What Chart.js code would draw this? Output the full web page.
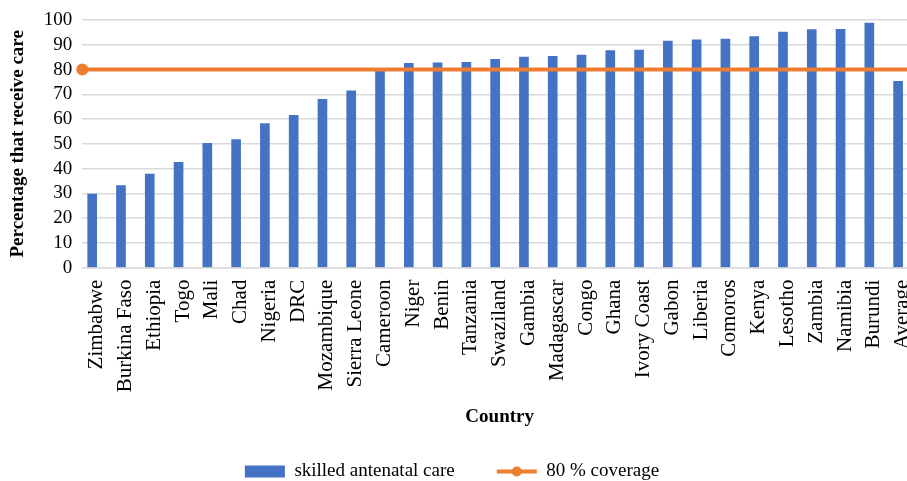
<!DOCTYPE html>
<html>
<head>
  <meta charset="utf-8">
  <title>Skilled antenatal care</title>
  <script src="https://cdn.jsdelivr.net/npm/chart.js@4.4.1/dist/chart.umd.min.js"></script>
  <style>
    body { margin: 0; background: #fff; overflow: hidden; }
    #wrap { width: 907px; height: 481px; overflow: hidden; }
  </style>
</head>
<body>
  <div id="wrap">
    <!-- wider than the window: the plot area runs off the right edge like the original -->
    <canvas id="careChart" width="923" height="481"></canvas>
  </div>

  <script>
    const countries = ['Zimbabwe', 'Burkina Faso', 'Ethiopia', 'Togo', 'Mali', 'Chad', 'Nigeria', 'DRC',
      'Mozambique', 'Sierra Leone', 'Cameroon', 'Niger', 'Benin', 'Tanzania', 'Swaziland', 'Gambia',
      'Madagascar', 'Congo', 'Ghana', 'Ivory Coast', 'Gabon', 'Liberia', 'Comoros', 'Kenya', 'Lesotho',
      'Zambia', 'Namibia', 'Burundi', 'Average'];

    const skilledCare = [29.7, 33.1, 37.8, 42.5, 50.2, 51.7, 58.2, 61.5, 68.0, 71.4, 79.6, 82.5, 82.7,
      82.9, 84.1, 85.0, 85.3, 85.8, 87.7, 87.9, 91.5, 92.0, 92.3, 93.3, 95.1, 96.1, 96.2, 98.8, 75.2];

    const coverageTarget = 80;
    const yTicks = [0, 10, 20, 30, 40, 50, 60, 70, 80, 90, 100];

    const serif = "'Liberation Serif', 'Times New Roman', serif";
    const blue = '#4472c4';
    const orange = '#ed7d31';
    const grid = '#d9d9d9';

    // dot on the legend line, like the Excel marker
    const legendDot = {
      id: 'legendDot',
      afterDraw(chart) {
        const legend = chart.legend;
        if (!legend || !legend.legendHitBoxes[1]) return;
        const box = legend.legendHitBoxes[1];
        const w = legend.options.labels.pointStyleWidth;
        const ctx = chart.ctx;
        ctx.save();
        ctx.fillStyle = orange;
        ctx.beginPath();
        ctx.arc(box.left + w / 2, box.top + box.height / 2, 5, 0, Math.PI * 2);
        ctx.fill();
        ctx.restore();
      }
    };

    const data = {
      labels: countries,
      datasets: [
        {
          type: 'bar',
          label: 'skilled antenatal care',
          data: skilledCare,
          backgroundColor: blue,
          borderWidth: 0,
          barThickness: 9,
          order: 2
        },
        {
          type: 'line',
          label: '80 % coverage',
          data: [{ x: 0, y: coverageTarget }, { x: 1, y: coverageTarget }],
          xAxisID: 'xLine',
          borderColor: orange,
          backgroundColor: orange,
          borderWidth: 4,
          pointRadius: [6, 0],
          pointBackgroundColor: orange,
          pointBorderWidth: 0,
          clip: false,
          order: 1
        }
      ]
    };

    const config = {
      type: 'bar',
      data: data,
      options: {
        responsive: false,
        animation: false,
        layout: { padding: { left: 0, right: 0, top: 20, bottom: -10 } },
        plugins: {
          legend: {
            position: 'bottom',
            labels: {
              font: { family: serif, size: 19 },
              color: '#000',
              usePointStyle: true,
              pointStyleWidth: 40,
              boxHeight: 12,
              padding: 4,
              generateLabels(chart) {
                return chart.data.datasets.map((ds, i) => ({
                  // spaces keep the wide gap between the entries and pull the legend back to centre
                  text: i === 0 ? ds.label + '\u2003\u2003' : ds.label + '\u2003',
                  datasetIndex: i,
                  fillStyle: ds.backgroundColor,
                  strokeStyle: i === 0 ? blue : orange,
                  lineWidth: i === 0 ? 0 : 4,
                  pointStyle: i === 0 ? 'rect' : 'line',
                  fontColor: '#000'
                }));
              }
            }
          },
          tooltip: { enabled: false }
        },
        scales: {
          x: {
            type: 'category',
            offset: true,
            afterFit(scale) {
              scale.paddingLeft = 0;
              scale.paddingRight = 0;
            },
            grid: { display: false },
            border: { color: grid, width: 1.5 },
            ticks: {
              font: { family: serif, size: 21 },
              color: '#000',
              maxRotation: 90,
              minRotation: 90,
              autoSkip: false,
              padding: 4
            },
            title: {
              display: true,
              text: 'Country',
              font: { family: serif, size: 19, weight: 'bold' },
              color: '#000',
              padding: { top: 9, bottom: 30 }
            }
          },
          xLine: {
            type: 'linear',
            display: false,
            offset: false,
            min: 0,
            max: 1
          },
          y: {
            min: 0,
            max: 100,
            afterBuildTicks(axis) {
              axis.ticks = yTicks.map(v => ({ value: v }));
            },
            afterFit(scale) {
              scale.paddingTop = 0;
            },
            grid: { color: grid, lineWidth: 1.5, drawTicks: false },
            border: { display: false },
            ticks: {
              font: { family: serif, size: 19 },
              color: '#000',
              padding: 10,
              autoSkip: false
            },
            title: {
              display: true,
              text: 'Percentage that receive care',
              font: { family: serif, size: 19, weight: 'bold' },
              color: '#000',
              padding: { top: 7, bottom: 4 }
            }
          }
        }
      },
      plugins: [legendDot]
    };

    new Chart(document.getElementById('careChart'), config);
  </script>
</body>
</html>
